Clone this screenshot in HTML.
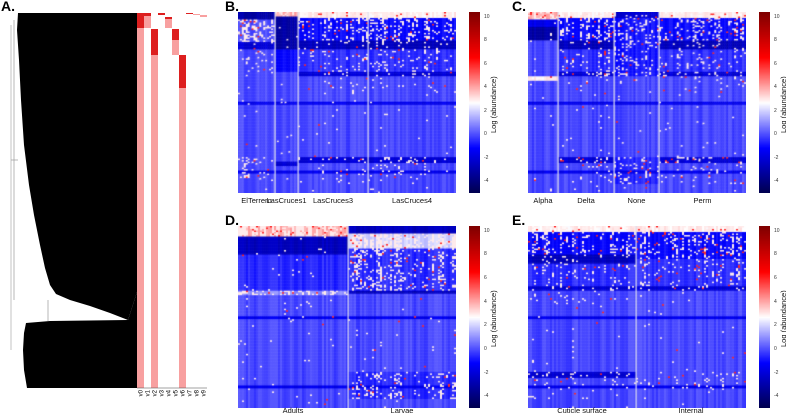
<!DOCTYPE html>
<html><head><meta charset="utf-8">
<style>
body{margin:0;background:#fff;width:786px;height:415px;overflow:hidden;position:relative;font-family:"Liberation Sans",sans-serif}
.abs{position:absolute}
.letter{font-weight:bold;font-size:14px;color:#000}
.glab{font-size:7.5px;color:#111;white-space:nowrap;transform:translateX(-50%)}
.tick{font-size:5px;color:#333}
.cbl{font-size:7.5px;color:#111;transform:rotate(-90deg);transform-origin:left top;white-space:nowrap}
canvas{position:absolute}
</style></head>
<body>
<div class="abs letter" style="left:1px;top:-2px">A.</div>
<svg class="abs" style="left:0;top:0" width="230" height="415">
  <g>
    <polygon fill="#000" points="18,13 137,13 137,292 128,320 110,313 90,306 70,300 56,294 50,285 45,268 40,245 34,215 29,185 24,145 21,100 19,60 17,30"/>
    <polygon fill="#000" points="137,292 137,388 27,388 24,370 23,350 24,333 26,323 50,321 128,320"/>
    <line x1="11" y1="25" x2="11" y2="350" stroke="#aaa" stroke-width="0.7"/>
    <line x1="14" y1="20" x2="14" y2="300" stroke="#999" stroke-width="0.7"/>
    <line x1="11" y1="160" x2="18" y2="160" stroke="#999" stroke-width="0.7"/>
    <line x1="48" y1="321" x2="48" y2="300" stroke="#999" stroke-width="0.7"/>
  </g>
  <g id="strip"></g>
</svg>
<div id="root"></div>
<script>
// membership strip data: column index, [startY, endY, level] blocks (level 1 = pink, 2 = dark red)
const stripCols = ['v0','v1','v2','v3','v4','v5','v6','v7','v8','v9'];
const stripBlocks = [
 [0,13,28,2],[0,28,388,1],
 [1,13,16,2],[1,16,28,1],
 [2,29,55,2],[2,55,388,1],
 [3,13,15,2],
 [4,17,19,2],[4,19,28,1],
 [5,29,40,2],[5,40,55,1],
 [6,55,88,2],[6,88,388,1],
 [7,13,14,2],[8,14,15,1],[9,15,17,1]
];
(function(){
  const ns='http://www.w3.org/2000/svg';
  const g=document.getElementById('strip');
  const x0=137, cw=7;
  stripBlocks.forEach(b=>{
    const r=document.createElementNS(ns,'rect');
    r.setAttribute('x',x0+b[0]*cw);r.setAttribute('y',b[1]);
    r.setAttribute('width',cw);r.setAttribute('height',b[2]-b[1]);
    r.setAttribute('fill',b[3]===2?'#dd1f1f':'#f8a0a0');
    
    
    g.appendChild(r);
  });
  const ax=document.createElementNS(ns,'line');
  ax.setAttribute('x1',137);ax.setAttribute('x2',207);ax.setAttribute('y1',388);ax.setAttribute('y2',388);
  ax.setAttribute('stroke','#444');ax.setAttribute('stroke-width','0.6');
  g.appendChild(ax);
  stripCols.forEach((c,i)=>{
    const t=document.createElementNS(ns,'text');
    const cx=x0+i*cw+cw/2+2;
    t.setAttribute('x',cx);t.setAttribute('y',390);
    t.setAttribute('font-size','6');t.setAttribute('font-family','Liberation Sans, sans-serif');
    t.setAttribute('transform','rotate(-90 '+cx+' 390)');t.setAttribute('text-anchor','end');
    t.textContent=c;
    
    
    g.appendChild(t);
  });
})();

// heatmap panels: groups [name, x0, x1, bands]; band = [fracStart, fracEnd, value, speckleDensity]
const ticksCB = [10,8,6,4,2,0,-2,-4];
const bandsTopA = [[0,0.03,3,0.35],[0.03,0.15,-1,0.22],[0.15,0.2,-2.5,0.08],[0.2,0.33,-0.4,0.1],[0.33,0.35,-2,0.1],[0.35,0.45,0,0.04],[0.8,0.83,-2,0.15],[0.83,0.95,0,0.05]];
const panelsB = [['ElTerrero',238,275,[[0,0.04,-3,0],[0.04,0.16,0,0.3],[0.16,0.2,-2,0.05],[0.2,0.33,0,0.08],[0.8,0.92,0,0.15]]],
 ['LasCruces1',275,298,[[0,0.02,4,0.4],[0.02,0.2,-3,0.02],[0.2,0.33,-1,0.01],[0.82,0.85,-2,0]]],
 ['LasCruces3',298,368,bandsTopA],['LasCruces4',368,456,bandsTopA]];
const panelsC = [['Alpha',528,558,[[0,0.04,4,0.5],[0.04,0.08,-1.5,0.01],[0.08,0.15,-3,0.01],[0.35,0.38,3,0.4]]],
 ['Delta',558,614,bandsTopA],['None',614,659,[[0,0.03,-2,0.1],[0.03,0.35,-0.8,0.18],[0.8,0.95,-0.5,0.15]]],['Perm',659,746,bandsTopA]];
const panelsD = [['Adults',238,348,[[0,0.05,4,0.5],[0.05,0.15,-2.5,0.01],[0.15,0.35,-0.5,0.01],[0.35,0.38,1,0.35]]],
 ['Larvae',348,456,[[0,0.04,-2.5,0],[0.04,0.12,2,0.4],[0.12,0.35,-0.5,0.22],[0.35,0.37,-2.5,0],[0.8,0.95,-0.5,0.15]]]];
const panelsE = [['Cuticle surface',528,636,bandsTopA],['Internal',636,746,[[0,0.03,3,0.3],[0.03,0.18,-1,0.25],[0.18,0.33,-0.4,0.15],[0.33,0.35,-2,0.1],[0.8,0.9,0,0.08]]]];
const panels=[
 {id:'b',letter:'B.',lx:225,ly:-2,y:12,h:181,groups:panelsB,cbx:469,laby:196},
 {id:'c',letter:'C.',lx:512,ly:-2,y:12,h:181,groups:panelsC,cbx:759,laby:196},
 {id:'d',letter:'D.',lx:225,ly:212,y:226,h:182,groups:panelsD,cbx:469,laby:406},
 {id:'e',letter:'E.',lx:512,ly:212,y:226,h:182,groups:panelsE,cbx:759,laby:406}];

function cmap(v){
  let t=(v+5)/15.4; t=Math.max(0,Math.min(1,t));
  let r,g,b;
  if(t<0.25){const k=t/0.25;r=0;g=0;b=0.3+0.7*k;}
  else if(t<0.5){const k=(t-0.25)/0.25;r=k;g=k;b=1;}
  else if(t<0.75){const k=(t-0.5)/0.25;r=1;g=1-k;b=1-k;}
  else{const k=(t-0.75)/0.25;r=1-0.5*k;g=0;b=0;}
  return 'rgb('+Math.round(r*255)+','+Math.round(g*255)+','+Math.round(b*255)+')';
}
function h(a,b){let x=Math.imul(a*2654435761|0,0x45d9f3b)^Math.imul(b+17,0x27d4eb2d);x^=x>>>15;x=Math.imul(x,0x2c1b3c6d);x^=x>>>12;return ((x>>>0)%100000)/100000;}
const root=document.getElementById('root');
panels.forEach((p,pi)=>{
  const L=document.createElement('div');L.className='abs letter';L.style.left=p.lx+'px';L.style.top=p.ly+'px';L.textContent=p.letter;
  
  
  root.appendChild(L);
  const x0=p.groups[0][1], x1=p.groups[p.groups.length-1][2];
  const cv=document.createElement('canvas');cv.width=x1-x0;cv.height=p.h;cv.style.left=x0+'px';cv.style.top=p.y+'px';
  
  
  root.appendChild(cv);
  const ctx=cv.getContext('2d');
  const rows=Math.round(p.h/1.5);
  p.groups.forEach((gr,gi)=>{
    const gx=gr[1]-x0, gw=gr[2]-gr[1], cols=Math.round(gw/2), cw=gw/cols;
    for(let c=0;c<cols;c++){
      const cs=(h(c+gi*50,pi+3)-0.6)*0.7;
      const colAct=h(c*3+1,gi+pi*7)<0.45?1.6:0.4;
      for(let r=0;r<rows;r++){
        const f=r/rows;let v=0,d=0.01;
        gr[3].forEach(bd=>{if(f>=bd[0]&&f<bd[1]){v=bd[2];d=bd[3];}});
        if(Math.abs(f-0.5)<0.005||Math.abs(f-0.88)<0.005) v=-1.5;
        v+=cs;
        const hv=h(r*131+c*7919,gi+pi*10+1);
        if(hv<d*colAct) v= hv<d*0.1?6:3.0;
        ctx.fillStyle=cmap(v);
        ctx.fillRect(gx+c*cw,r*p.h/rows,cw+0.5,p.h/rows+0.5);
      }
    }
    if(gi>0){ctx.fillStyle='#dde';ctx.fillRect(gx-0.5,0,1.2,p.h);}
    const lb=document.createElement('div');lb.className='abs glab';lb.textContent=gr[0];
    lb.style.left=(gr[1]+gr[2])/2+'px';lb.style.top=p.laby+'px';
    
    
    root.appendChild(lb);
  });
  const cb=document.createElement('canvas');cb.width=11;cb.height=p.h;cb.style.left=p.cbx+'px';cb.style.top=p.y+'px';
  
  
  root.appendChild(cb);
  const cc=cb.getContext('2d');
  for(let y=0;y<p.h;y++){cc.fillStyle=cmap(10.4-15.4*y/p.h);cc.fillRect(0,y,11,1);}
  ticksCB.forEach(t=>{
    const ty=p.y+(10.4-t)/15.4*p.h;
    const tk=document.createElement('div');tk.className='abs tick';tk.textContent=t;
    tk.style.left=(p.cbx+15)+'px';tk.style.top=(ty-3)+'px';
    
    
    root.appendChild(tk);
  });
  const cl=document.createElement('div');cl.className='abs cbl';cl.textContent='Log (abundance)';
  cl.style.left=(p.cbx+20)+'px';cl.style.top=(p.y+p.h/2+30)+'px';
  
  
  root.appendChild(cl);
});
</script>
</body></html>
